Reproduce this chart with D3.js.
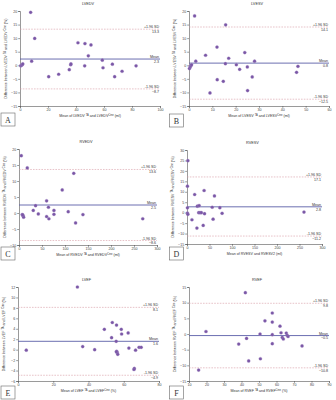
<!DOCTYPE html>
<html>
<head>
<meta charset="utf-8">
<script src="https://cdn.jsdelivr.net/npm/d3@7"></script>
<style>
  body { margin: 0; background: #fff; }
  svg { display: block; font-family: "Liberation Sans", Arial, sans-serif; }
</style>
</head>
<body>
<svg id="chart" width="336" height="400"></svg>
<script>
// values: mean of the two methods (x) and difference (y)
const lvedvX = [0.5, 1, 1.5, 2, 7.6, 8.3, 10.5, 20.5, 27.6, 35.2, 36.2, 36.4, 41.4, 46.4, 46.2, 48.8, 50.7, 58.8, 59.3, 66, 67.6, 72.9, 82.9];
const lvedvY = [-0.2, 0, 0.2, 0.5, 19.5, 1.5, 9.9, -4.2, -3.3, -1.6, 0.2, 0.5, 8.3, 8.0, -0.2, 3.5, 7.5, 1.9, -0.9, 0.4, -4.2, -2.2, -0.2];

const lvesvX = [0.2, 0.5, 0.8, 1.1, 2.4, 2.9, 7.1, 12, 12.1, 14.7, 9, 15.7, 15.6, 17, 20.3, 21.7, 23.9, 25, 25.1, 27.1, 28.1, 46.1, 46.7];
const lvesvY = [-1.2, -0.6, -0.2, 0.2, 18.2, 1.5, 3.7, 6.7, -5.3, -5.9, -10.2, 14.9, 0.6, 2.6, 0.2, -1.5, 4.7, -0.6, -9.3, -4.3, 1.5, -2.6, -0.4];

const rvedvX = [5, 7, 9, 10, 8, 18, 31, 36, 42, 60, 60, 64, 65, 76, 76, 94, 107, 119, 123, 139, 269];
const rvedvY = [17.9, -0.5, -0.9, -1.3, -0.6, 14.1, 0.8, 2.3, -0.3, 3.8, -1.1, 1.8, -1.8, 0.8, -0.4, 7.2, 0.4, 12.4, -3.1, -0.5, -1.8];

const rvesvX = [2, 1, 1, 1, 2, 11, 17, 22, 23, 27, 26, 29, 32, 36, 38, 39, 56, 58, 61, 73, 78, 260];
const rvesvY = [24.9, 12.7, 2.3, -0.2, -0.8, -3.4, 8.7, -7.4, 3.1, 3.4, 0, 0, 0, -6.1, 10.6, -0.5, 2.6, -3.1, 8.0, 2.4, -0.3, 0.3];

const lvefX = [4.7, 33.7, 36.7, 43.5, 49, 53.1, 53.5, 55.7, 55.9, 56, 56.3, 56.6, 55.8, 58.6, 58.8, 62.5, 62.9, 66.7, 66, 65.8, 68.7, 69.9];
const lvefY = [-0.1, 12, 0.6, 0, 3.9, 2.3, 5.2, 1.6, 4.7, -0.3, -0.6, -0.9, -0.4, 3.9, 3, 3.2, 0.3, -0.1, -3.6, -3.8, 0.45, 0.45];

const rvefX = [15.5, 19.7, 38.4, 42.2, 42.9, 44.1, 50.6, 50.8, 53.4, 57.6, 57.6, 57.6, 57.6, 62, 62.6, 63.3, 63.9, 65.6, 66.1, 66.6, 74.6];
const rvefY = [-11.5, 0.8, -3.2, 13.2, -1.4, -8.6, 0, -7.9, 4.2, 6.7, 3.8, -0.2, -3.1, 2.5, 0.4, -1.1, -1.6, 0.3, -0.4, -0.8, -3.8];

// [mean, +1.96 SD, -1.96 SD]
const lvedvStats = [2.3, 13.3, -8.7];
const lvesvStats = [0.8, 14.1, -12.5];
const rvedvStats = [2.5, 13.6, -8.6];
const rvesvStats = [2.8, 17.1, -11.2];
const lvefStats = [1.6, 8.1, -4.9];
const rvefStats = [-0.5, 9.8, -10.8];

const lvedvXTicks = [0, 20, 40, 60, 80, 100];
const lvesvXTicks = [0, 10, 20, 30, 40, 50, 60];
const rvXTicks = [0, 50, 100, 150, 200, 250, 300];
const lvefXTicks = [0, 20, 40, 60, 80];
const rvefXTicks = [10, 20, 30, 40, 50, 60, 70, 80, 90];
const yTicks20 = d3.range(-15, 21, 5);
const yTicksRvedv = d3.range(-10, 21, 5);
const yTicksRvesv = d3.range(-15, 31, 5);
const yTicksLvef = d3.range(-6, 13, 2);
const yTicksRvef = d3.range(-15, 16, 5);

const panels = [
  { letter: "A", title: "LVEDV", xs: lvedvX, ys: lvedvY, stats: lvedvStats, xTicks: lvedvXTicks, yTicks: yTicks20,
    box: [20, 160, 11, 106], lb: [1, 113], m: "LVEDV", unit: "ml", sup: true },
  { letter: "B", title: "LVESV", xs: lvesvX, ys: lvesvY, stats: lvesvStats, xTicks: lvesvXTicks, yTicks: yTicks20,
    box: [189, 329, 11, 106], lb: [169.5, 114], m: "LVESV", unit: "ml", sup: true },
  { letter: "C", title: "RVEDV", xs: rvedvX, ys: rvedvY, stats: rvedvStats, xTicks: rvXTicks, yTicks: yTicksRvedv,
    box: [19, 157, 149, 245], lb: [1, 247], m: "RVEDV", unit: "ml", sup: true },
  { letter: "D", title: "RVESV", xs: rvesvX, ys: rvesvY, stats: rvesvStats, xTicks: rvXTicks, yTicks: yTicksRvesv,
    box: [187, 322, 150, 244], lb: [169.5, 247], m: "RVESV", unit: "ml", sup: false },
  { letter: "E", title: "LVEF", xs: lvefX, ys: lvefY, stats: lvefStats, xTicks: lvefXTicks, yTicks: yTicksLvef,
    box: [18, 159, 287, 381], lb: [1, 386], m: "LVEF", unit: "%", sup: true },
  { letter: "F", title: "RVEF", xs: rvefX, ys: rvefY, stats: rvefStats, xTicks: rvefXTicks, yTicks: yTicksRvef,
    box: [189, 329, 287, 381], lb: [169.5, 386], m: "RVEF", unit: "%", sup: true }
];

const svg = d3.select("#chart");
const fs = 3.6;

panels.forEach(p => {
  const [l, r, t, b] = p.box;
  const x = d3.scaleLinear().domain(d3.extent(p.xTicks)).range([l, r]);
  const y = d3.scaleLinear().domain(d3.extent(p.yTicks)).range([b, t]);
  const g = svg.append("g");

  // axes
  g.append("g")
    .attr("transform", `translate(0,${b})`)
    .call(d3.axisBottom(x).tickValues(p.xTicks).tickSize(1.8).tickPadding(1))
    .call(a => a.selectAll("text").attr("font-size", fs).attr("fill", "#444"));
  g.append("g")
    .attr("transform", `translate(${l},0)`)
    .call(d3.axisLeft(y).tickValues(p.yTicks).tickSize(1.8).tickPadding(1))
    .call(a => a.selectAll("text").attr("font-size", fs).attr("fill", "#444"));
  g.selectAll(".domain, .tick line").attr("stroke", "#555").attr("stroke-width", 0.6);

  // limits of agreement and mean
  const [mean, hi, lo] = p.stats;
  [hi, lo].forEach(v => {
    g.append("line").attr("x1", l).attr("x2", r).attr("y1", y(v)).attr("y2", y(v))
      .attr("stroke", "#d69aa4").attr("stroke-width", 0.6).attr("stroke-dasharray", "1.6,1.2");
  });
  g.append("line").attr("x1", l).attr("x2", r).attr("y1", y(mean)).attr("y2", y(mean))
    .attr("stroke", "#5b5fa8").attr("stroke-width", 0.9);

  const lab = [["+1.96 SD", hi], ["Mean", mean], ["-1.96 SD", lo]];
  lab.forEach(([name, v]) => {
    g.append("text").attr("x", r - 1).attr("y", y(v) - 1).attr("text-anchor", "end")
      .attr("font-size", fs).attr("fill", "#333").text(name);
    g.append("text").attr("x", r - 1).attr("y", y(v) + fs + 0.2).attr("text-anchor", "end")
      .attr("font-size", fs).attr("fill", "#333").text(d3.format(".1f")(v));
  });

  // points
  g.append("g").selectAll("circle")
    .data(p.xs.map((v, i) => [v, p.ys[i]]))
    .join("circle")
      .attr("cx", d => x(d[0]))
      .attr("cy", d => y(d[1]))
      .attr("r", 1.6)
      .attr("fill", "#7a57a6")
      .attr("stroke", "#a58cc6")
      .attr("stroke-width", 0.3);

  // title
  g.append("text").attr("x", (l + r) / 2 - 2).attr("y", t - 6).attr("text-anchor", "middle")
    .attr("font-size", 3.8).attr("fill", "#333").text(p.title);

  // x-axis title
  const xt = g.append("text").attr("x", (l + r) / 2).attr("y", b + 11).attr("text-anchor", "middle")
    .attr("font-size", fs).attr("fill", "#333");
  if (p.sup) {
    xt.append("tspan").text(`Mean of ${p.m} `);
    xt.append("tspan").attr("dy", -1.2).attr("font-size", 2.6).text("TA");
    xt.append("tspan").attr("dy", 1.2).text(` and ${p.m}`);
    xt.append("tspan").attr("dy", -1.2).attr("font-size", 2.6).text("Cine");
    xt.append("tspan").attr("dy", 1.2).text(` (${p.unit})`);
  } else {
    xt.text(`Mean of ${p.m} and ${p.m}2 (${p.unit})`);
  }

  // y-axis title
  const cy = (t + b) / 2;
  const yt = g.append("text").attr("transform", `translate(${l - 13},${cy}) rotate(-90)`)
    .attr("text-anchor", "middle").attr("font-size", fs).attr("fill", "#333");
  yt.append("tspan").text(`Difference between ${p.m} `);
  yt.append("tspan").attr("dy", -1.2).attr("font-size", 2.6).text("TA");
  yt.append("tspan").attr("dy", 1.2).text(` and ${p.m} `);
  yt.append("tspan").attr("dy", -1.2).attr("font-size", 2.6).text("Cine");
  yt.append("tspan").attr("dy", 1.2).text(` (%)`);

  // panel letter box
  const [bx, by] = p.lb;
  g.append("rect").attr("x", bx).attr("y", by).attr("width", 14).attr("height", 13)
    .attr("fill", "#fff").attr("stroke", "#666").attr("stroke-width", 0.6);
  g.append("text").attr("x", bx + 7).attr("y", by + 10).attr("text-anchor", "middle")
    .attr("font-size", 8).attr("font-family", "Liberation Serif, serif").attr("fill", "#333").text(p.letter);
});
</script>
</body>
</html>
